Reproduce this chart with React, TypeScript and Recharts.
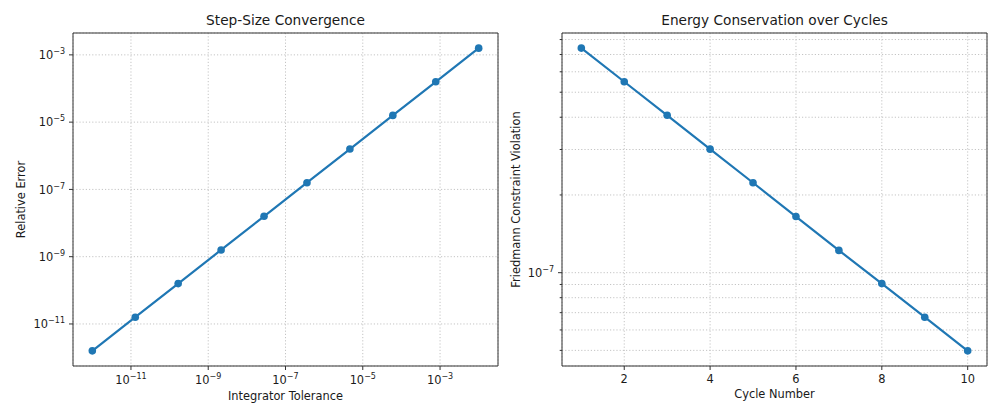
import React from "react";
import {
  LineChart,
  Line,
  XAxis,
  YAxis,
  CartesianGrid,
  ReferenceArea,
} from "recharts";

// left panel: integrator tolerance sweep
const tolerances = [
  1e-12, 1.292e-11, 1.668e-10, 2.154e-9, 2.783e-8, 3.594e-7, 4.642e-6,
  5.995e-5, 7.743e-4, 1e-2,
];
const relErrors = [
  1.585e-12, 1.585e-11, 1.585e-10, 1.585e-9, 1.585e-8, 1.585e-7, 1.585e-6,
  1.585e-5, 1.585e-4, 1.585e-3,
];
const toleranceTicks = [1e-11, 1e-9, 1e-7, 1e-5, 1e-3];
const errorTicks = [1e-11, 1e-9, 1e-7, 1e-5, 1e-3];

// right panel: constraint violation per cycle
const cycles = [1, 2, 3, 4, 5, 6, 7, 8, 9, 10];
const violations = [
  7.41e-7, 5.49e-7, 4.07e-7, 3.01e-7, 2.23e-7, 1.65e-7, 1.22e-7, 9.07e-8,
  6.72e-8, 4.98e-8,
];
const cycleTicks = [2, 4, 6, 8, 10];
const violationMajor = [1e-7];
const violationTicks = [
  5e-8, 6e-8, 7e-8, 8e-8, 9e-8, 1e-7, 2e-7, 3e-7, 4e-7, 5e-7, 6e-7, 7e-7, 8e-7,
];

const convergenceData = tolerances.map((tol, i) => ({ tol, err: relErrors[i] }));
const energyData = cycles.map((cycle, i) => ({
  cycle,
  violation: violations[i],
}));

const BLUE = "#1f77b4";
const INK = "#1a1a1a";
const SPINE = "#333333";
const GRID = "#c4c4c4";
const FONT = "'DejaVu Sans', sans-serif";

const TOL_DOMAIN: [number, number] = [3.162e-13, 3.162e-2];
const ERR_DOMAIN: [number, number] = [5.623e-13, 4.467e-3];
const CYCLE_DOMAIN: [number, number] = [0.55, 10.45];
const VIOL_DOMAIN: [number, number] = [4.35e-8, 8.48e-7];

function Pow10({ x, y, value, anchor }: any) {
  const exp = Math.round(Math.log10(value));
  const sign = exp < 0 ? "\u2212" : "";
  return (
    <text
      x={x}
      y={y}
      textAnchor={anchor}
      fontSize={11.4}
      fill={INK}
      fontFamily={FONT}
    >
      10
      <tspan dy={-5} fontSize={8}>
        {sign + Math.abs(exp)}
      </tspan>
    </text>
  );
}

const LogXTick = ({ x, y, payload }: any) => (
  <g>
    <line x1={x} x2={x} y1={y} y2={y + 4} stroke={SPINE} />
    <Pow10 x={x} y={y + 17.5} value={payload.value} anchor="middle" />
  </g>
);

const LogYTick = ({ x, y, payload }: any) => (
  <g>
    <line x1={x - 4} x2={x} y1={y} y2={y} stroke={SPINE} />
    <Pow10 x={x - 8} y={y + 4.2} value={payload.value} anchor="end" />
  </g>
);

const LinXTick = ({ x, y, payload }: any) => (
  <g>
    <line x1={x} x2={x} y1={y} y2={y + 4} stroke={SPINE} />
    <text
      x={x}
      y={y + 17}
      textAnchor="middle"
      fontSize={11.4}
      fill={INK}
      fontFamily={FONT}
    >
      {payload.value}
    </text>
  </g>
);

const MinorYTick = ({ x, y, payload }: any) => {
  const major = violationMajor.includes(payload.value);
  return (
    <g>
      <line x1={x - (major ? 4 : 2.3)} x2={x} y1={y} y2={y} stroke={SPINE} />
      {major && (
        <Pow10 x={x - 8} y={y + 4.2} value={payload.value} anchor="end" />
      )}
    </g>
  );
};

export default function App() {
  return (
    <div
      style={{
        position: "absolute",
        left: 0,
        top: 0,
        width: 989,
        height: 405,
        background: "#fff",
      }}
    >
      <div style={{ position: "absolute", left: 0, top: 0 }}>
        <LineChart
          width={510}
          height={405}
          data={convergenceData}
          margin={{ top: 33, right: 12, bottom: 9, left: 0 }}
        >
          <CartesianGrid stroke={GRID} strokeDasharray="1.2 2" />
          <XAxis
            dataKey="tol"
            type="number"
            scale="log"
            domain={TOL_DOMAIN}
            allowDataOverflow
            ticks={toleranceTicks}
            interval={0}
            height={30}
            tickSize={0}
            tickMargin={0}
            tickLine={false}
            axisLine={false}
            tick={<LogXTick />}
          />
          <YAxis
            dataKey="err"
            type="number"
            scale="log"
            domain={ERR_DOMAIN}
            allowDataOverflow
            ticks={errorTicks}
            interval={0}
            width={73}
            tickSize={0}
            tickMargin={0}
            tickLine={false}
            axisLine={false}
            tick={<LogYTick />}
          />
          <ReferenceArea
            x1={TOL_DOMAIN[0]}
            x2={TOL_DOMAIN[1]}
            y1={ERR_DOMAIN[0]}
            y2={ERR_DOMAIN[1]}
            fill="none"
            stroke={SPINE}
            strokeWidth={1}
          />
          <Line
            dataKey="err"
            stroke={BLUE}
            strokeWidth={2.2}
            dot={{ r: 3.8, fill: BLUE, stroke: BLUE, strokeWidth: 0 }}
            activeDot={false}
            isAnimationActive={false}
          />
        </LineChart>
      </div>

      <div style={{ position: "absolute", left: 500, top: 0 }}>
        <LineChart
          width={489}
          height={405}
          data={energyData}
          margin={{ top: 33, right: 2, bottom: 9, left: 0 }}
        >
          <CartesianGrid stroke={GRID} strokeDasharray="1.2 2" />
          <XAxis
            dataKey="cycle"
            type="number"
            domain={CYCLE_DOMAIN}
            allowDataOverflow
            ticks={cycleTicks}
            interval={0}
            height={30}
            tickSize={0}
            tickMargin={0}
            tickLine={false}
            axisLine={false}
            tick={<LinXTick />}
          />
          <YAxis
            dataKey="violation"
            type="number"
            scale="log"
            domain={VIOL_DOMAIN}
            allowDataOverflow
            ticks={violationTicks}
            interval={0}
            width={62}
            tickSize={0}
            tickMargin={0}
            tickLine={false}
            axisLine={false}
            tick={<MinorYTick />}
          />
          <ReferenceArea
            x1={CYCLE_DOMAIN[0]}
            x2={CYCLE_DOMAIN[1]}
            y1={VIOL_DOMAIN[0]}
            y2={VIOL_DOMAIN[1]}
            fill="none"
            stroke={SPINE}
            strokeWidth={1}
          />
          <Line
            dataKey="violation"
            stroke={BLUE}
            strokeWidth={2.2}
            dot={{ r: 3.8, fill: BLUE, stroke: BLUE, strokeWidth: 0 }}
            activeDot={false}
            isAnimationActive={false}
          />
        </LineChart>
      </div>

      {/* titles and axis labels */}
      <svg
        width={989}
        height={405}
        style={{ position: "absolute", left: 0, top: 0, pointerEvents: "none" }}
        fontFamily={FONT}
        fill={INK}
      >
        <text x={285.5} y={25} textAnchor="middle" fontSize={13.7}>
          Step-Size Convergence
        </text>
        <text x={774.5} y={25} textAnchor="middle" fontSize={13.7}>
          Energy Conservation over Cycles
        </text>
        <text x={285.5} y={400} textAnchor="middle" fontSize={11.4}>
          Integrator Tolerance
        </text>
        <text x={774.5} y={398} textAnchor="middle" fontSize={11.4}>
          Cycle Number
        </text>
        <text
          transform="translate(24.5,199.5) rotate(-90)"
          textAnchor="middle"
          fontSize={11.4}
        >
          Relative Error
        </text>
        <text
          transform="translate(520,199.5) rotate(-90)"
          textAnchor="middle"
          fontSize={11.4}
        >
          Friedmann Constraint Violation
        </text>
      </svg>
    </div>
  );
}
